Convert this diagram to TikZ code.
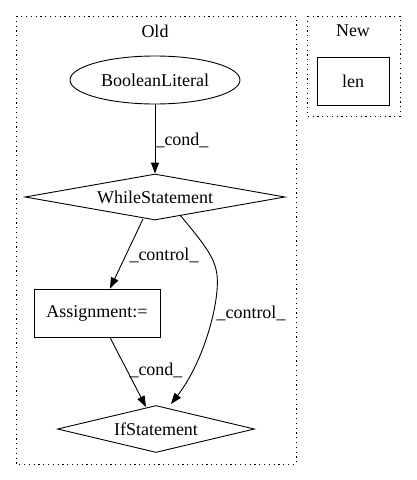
\documentclass[tikz,border=0pt]{standalone}
\usepackage{fontspec}
\setmainfont{Liberation Serif}
\usetikzlibrary{shapes.geometric,arrows.meta}
\begin{document}
\begin{tikzpicture}[x=1pt,y=-1pt,
  every node/.style={font=\fontsize{18pt}{21pt}\selectfont},
  cluster/.style={draw, line width=0.9pt, dash pattern=on 1.2pt off 3.6pt},
  edge/.style={draw, line width=0.9pt, -{Triangle[length=11pt,width=8pt]}},
  lbl/.style={inner sep=1pt}]
\useasboundingbox (0,0) rectangle (416,480);
\draw[cluster] (16,16) rectangle (296,464);
\draw[cluster] (307,16) rectangle (400,116);
\node (oldl) at (155,31) {Old};
\node (newl) at (353,31) {New};
\node[draw, line width=0.9pt, minimum width=72pt, minimum height=48pt] (len) at (353,81) {len};
\node[draw, ellipse, line width=0.9pt, minimum width=170pt, minimum height=48pt, inner sep=0pt] (bool) at (155,80) {BooleanLiteral};
\node[draw, diamond, aspect=5.6, line width=0.9pt, minimum width=260pt, minimum height=46pt, inner sep=0pt] (while) at (155,197) {WhileStatement};
\node[draw, line width=0.9pt, minimum width=126pt, minimum height=48pt] (assign) at (97,313) {Assignment:=};
\node[draw, diamond, aspect=4.2, line width=0.9pt, minimum width=197pt, minimum height=47pt, inner sep=0pt] (ifs) at (156,429) {IfStatement};
\path[edge] (bool) -- (while);
\node[lbl] at (182,140) {\_cond\_};
\path[edge] (143,219) -- (assign.north -| 110,0);
\node[lbl] at (164,255) {\_control\_};
\path[edge] (assign.south -| 110,0) -- (146,407);
\node[lbl] at (156,370) {\_cond\_};
\path[edge] (180,215) .. controls (205,245) and (215,258) .. (217,275)
  .. controls (220,300) and (205,360) .. (171,404);
\node[lbl] at (251,313) {\_control\_};
\end{tikzpicture}
\end{document}
